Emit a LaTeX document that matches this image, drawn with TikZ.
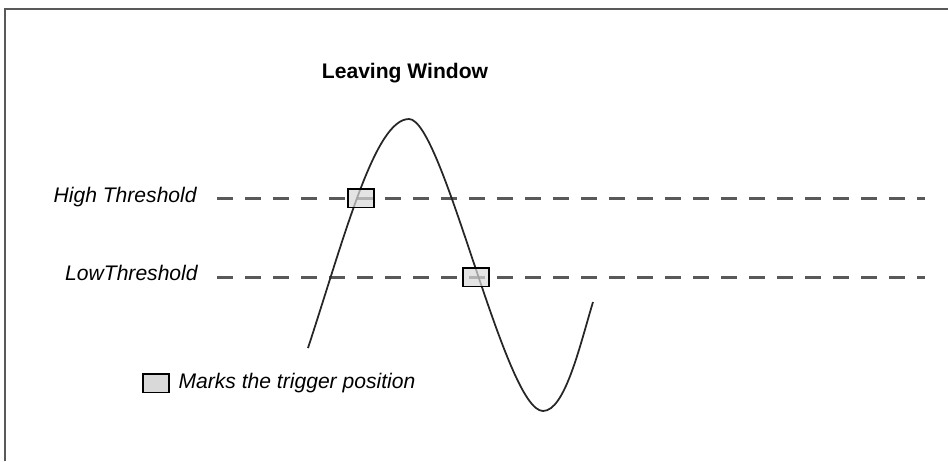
\documentclass[tikz,border=0pt]{standalone}
\usepackage{fontspec}
\setmainfont{Liberation Sans}
\usepackage{xcolor}
\usepackage{tikz}
\usetikzlibrary{positioning}

\tikzset{
  lbl/.style={inner sep=0pt, font=\fontsize{12}{14}\selectfont\itshape},
  thresh/.style={draw=black!65, line width=0.06cm, dash pattern=on 0.32cm off 0.24cm},
  trig/.style={draw=black, line width=0.03cm, fill=gray!30, fill opacity=0.7, draw opacity=1,
               minimum width=0.52cm, minimum height=0.37cm, inner sep=0pt},
}

\begin{document}
\begin{tikzpicture}[x=0.02cm, y=-0.02cm]
    \useasboundingbox (0,0) rectangle (948,461);

    % Rahmen
    \draw[black!65, line width=0.05cm] (5,461) -- (5,9) -- (948,9);

    % Titel
    \node[inner sep=0pt, anchor=base, font=\fontsize{12}{14}\selectfont\bfseries] (title) at (405,78) {Leaving Window};

    % Schwellen
    \node[lbl, anchor=base east] (hi) at (197,202) {High Threshold};
    \node[lbl, anchor=base east] (lo) at (198,280) {LowThreshold};
    \coordinate (histart) at (217,198);
    \coordinate (hiend) at (925,198);
    \coordinate (lostart) at (217,277);
    \coordinate (loend) at (925,277);
    \draw[thresh] (histart) -- (hiend);
    \draw[thresh] (lostart) -- (loend);

    % Signal
    \draw[black!85, line width=0.035cm]
        (308,348) .. controls (345,235) and (375,119) .. (409,119)
        .. controls (443,119) and (505,411) .. (543,411)
        .. controls (565,411) and (580,345) .. (593,302);

    % Triggerpunkte
    \node[trig] (t1) at (361,198) {};
    \node[trig] (t2) at (476,277) {};

    % Legende
    \node[trig, fill opacity=1] (legbox) at (156,383) {};
    \node[lbl, right=0.17cm of legbox] (legtext) {Marks the trigger position};
\end{tikzpicture}
\end{document}
